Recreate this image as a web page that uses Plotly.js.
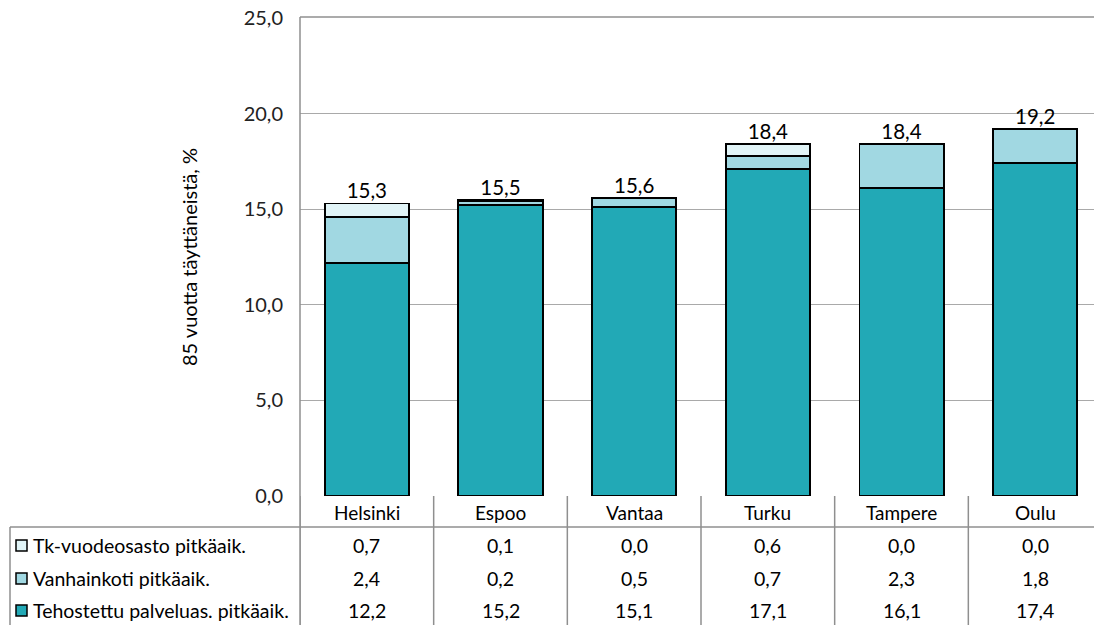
<!DOCTYPE html>
<html><head><meta charset="utf-8">
<script src="https://cdn.plot.ly/plotly-3.0.1.min.js"></script>
<style>html,body{margin:0;padding:0;overflow:hidden;background:#fff}#chart{width:1102px;height:625px}</style>
</head><body><div id="chart"></div>
<script>
const categories = ['Helsinki','Espoo','Vantaa','Turku','Tampere','Oulu'];
const seriesNames = ['Tk-vuodeosasto pitkäaik.','Vanhainkoti pitkäaik.','Tehostettu palveluas. pitkäaik.'];
const tkValues = [0.7,0.1,0.0,0.6,0.0,0.0];
const vanhainkotiValues = [2.4,0.2,0.5,0.7,2.3,1.8];
const tehostettuValues = [12.2,15.2,15.1,17.1,16.1,17.4];
const yTicks = [0,5,10,15,20,25];

const colors = {tk:'#E1F4F7', van:'#A1D8E2', teh:'#22A9B6'};
const FONT = 'Lato, "Open Sans", sans-serif';
const fmt = v => v.toFixed(1).replace('.', ',');
const totals = categories.map((c,i)=> Math.round((tkValues[i]+vanhainkotiValues[i]+tehostettuValues[i])*10)/10);

const barStyle = c => ({color:c, line:{color:'#000', width:1.8}});
const traces = [
  {type:'bar', name:seriesNames[2], x:categories, y:tehostettuValues, marker:barStyle(colors.teh), width:0.63, hoverinfo:'y'},
  {type:'bar', name:seriesNames[1], x:categories, y:vanhainkotiValues, marker:barStyle(colors.van), width:0.63, hoverinfo:'y'},
  {type:'bar', name:seriesNames[0], x:categories, y:tkValues, marker:barStyle(colors.tk), width:0.63, hoverinfo:'y'},
  {type:'scatter', mode:'text', x:categories, y:totals, text:totals.map(fmt), textposition:'top center',
   textfont:{family:FONT, size:20.5, color:'#000'}, hoverinfo:'skip', showlegend:false, cliponaxis:false}
];

// geometry (pixels) for the data table drawn below the plot
const W = 1102, H = 625, L = 300, T = 18, B = 129;
const pw = W - L, ph = H - T - B;
const px = x => (x - L) / pw;           // page x -> paper x
const py = y => (H - B - y) / ph;       // page y -> paper y
const lineCol = '#8f8f8f';

const shapes = [];
const annotations = [];
for (let i = 0; i <= categories.length; i++) {
  shapes.push({type:'line', xref:'x', yref:'paper', x0:i-0.5, x1:i-0.5, y0:0, y1:py(H), line:{color:lineCol, width:1.5}});
}
shapes.push({type:'line', xref:'paper', yref:'paper', x0:px(10), x1:1, y0:py(527), y1:py(527), line:{color:lineCol, width:1.5}});
shapes.push({type:'line', xref:'paper', yref:'paper', x0:px(10), x1:px(10), y0:py(527), y1:py(H), line:{color:lineCol, width:1.5}});
shapes.push({type:'line', xref:'paper', yref:'paper', x0:0, x1:0, y0:py(17), y1:py(H), line:{color:lineCol, width:1.5}});
shapes.push({type:'line', xref:'paper', yref:'paper', x0:0, x1:1, y0:py(17), y1:py(17), line:{color:lineCol, width:1.5}});

categories.forEach((c,i)=>annotations.push({xref:'x', yref:'paper', x:c, y:py(512), text:c, showarrow:false,
  yanchor:'middle', font:{family:FONT, size:19, color:'#000'}}));

const rows = [
  {name:seriesNames[0], vals:tkValues, color:colors.tk, y:545},
  {name:seriesNames[1], vals:vanhainkotiValues, color:colors.van, y:578},
  {name:seriesNames[2], vals:tehostettuValues, color:colors.teh, y:610}
];
rows.forEach(r=>{
  shapes.push({type:'rect', xref:'paper', yref:'paper', x0:px(16), x1:px(27), y0:py(r.y-5), y1:py(r.y+6),
    fillcolor:r.color, line:{color:'#000', width:1.5}});
  annotations.push({xref:'paper', yref:'paper', x:px(31), y:py(r.y), text:r.name, showarrow:false,
    xanchor:'left', yanchor:'middle', font:{family:FONT, size:19.5, color:'#000'}});
  categories.forEach((c,i)=>annotations.push({xref:'x', yref:'paper', x:c, y:py(r.y), text:fmt(r.vals[i]),
    showarrow:false, yanchor:'middle', font:{family:FONT, size:19.5, color:'#000'}}));
});

const layout = {
  width:W, height:H, margin:{l:L, r:0, t:T, b:B, pad:0},
  paper_bgcolor:'#fff', plot_bgcolor:'#fff',
  separators:', ', barmode:'stack', showlegend:false,
  font:{family:FONT, size:18, color:'#000'},
  xaxis:{type:'category', range:[-0.5, categories.length-0.5], showticklabels:false, ticks:'', showgrid:false,
    zeroline:false, showline:false, fixedrange:true},
  yaxis:{range:[0,25], tickvals:yTicks, tickformat:'.1f', showgrid:true, gridcolor:'#a9a9a9', gridwidth:1.3,
    zeroline:false, showline:false, ticks:'', ticklabelstandoff:16, tickfont:{family:FONT, size:20, color:'#222'},
    title:{text:'85 vuotta täyttäneistä, %', font:{family:FONT, size:20, color:'#000'}, standoff:40},
    automargin:false, fixedrange:true},
  shapes:shapes, annotations:annotations
};
Plotly.newPlot('chart', traces, layout, {displayModeBar:false, staticPlot:true});
</script></body></html>
